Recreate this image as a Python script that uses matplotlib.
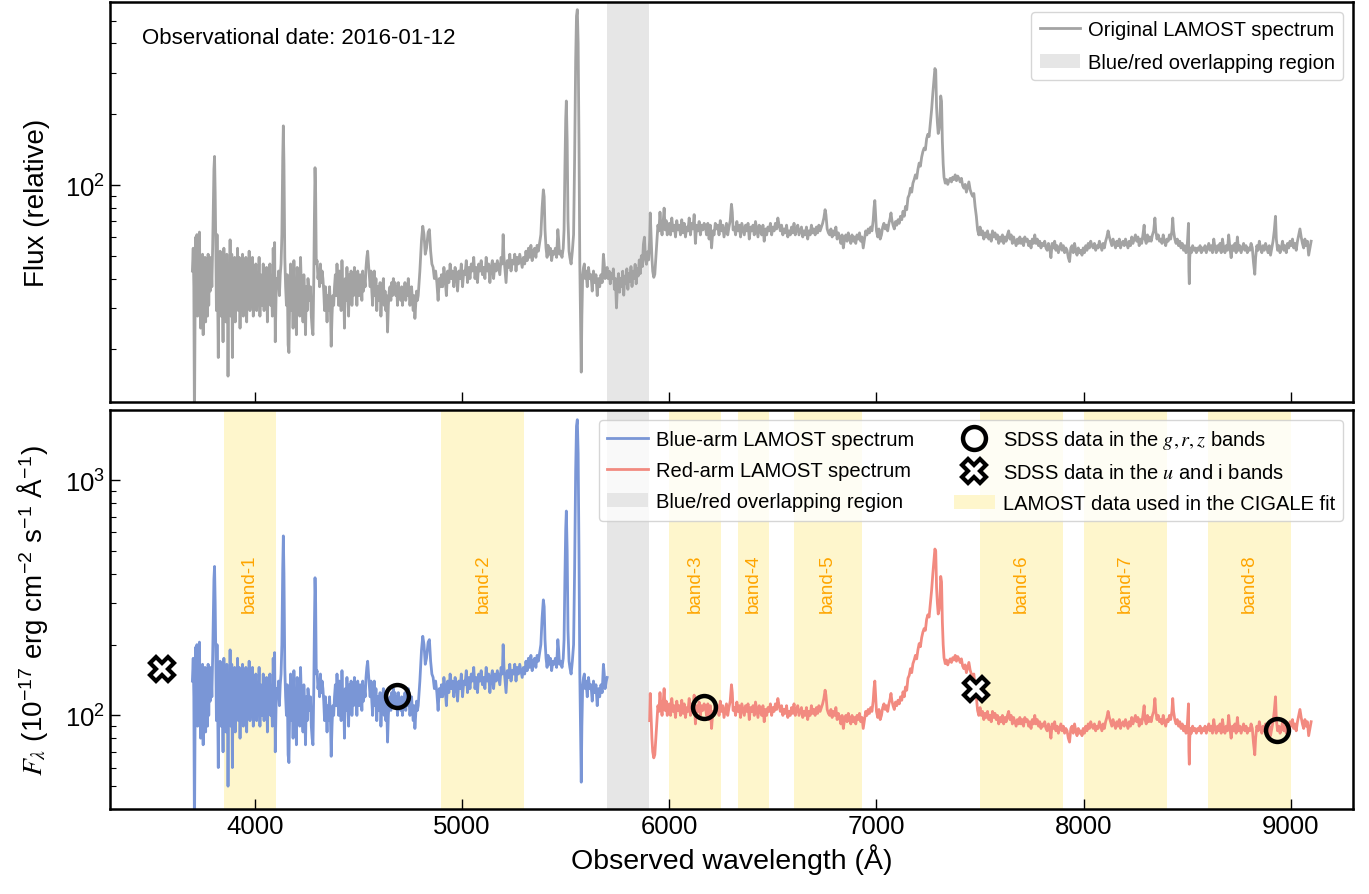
import numpy as np
import matplotlib
matplotlib.use("Agg")
import matplotlib.pyplot as plt
from matplotlib.ticker import LogLocator, NullFormatter

plt.rcParams["font.family"] = ["Liberation Sans", "DejaVu Sans"]
plt.rcParams["mathtext.fontset"] = "stix"

# Flux-calibrated blue arm, (wavelength in A, F_lambda in 1e-17 erg/cm2/s/A)
BLUE_ARM = [
    (3698, 140), (3702, 175), (3705, 120), (3708, 30), (3711, 95), (3714, 195), (3717, 110),
    (3720, 200), (3723, 90), (3726, 160), (3729, 100), (3732, 205), (3735, 120), (3738, 80),
    (3741, 150), (3744, 95), (3747, 165), (3750, 75), (3753, 140), (3756, 120), (3759, 160),
    (3762, 85), (3765, 150), (3768, 130), (3771, 90), (3774, 165), (3777, 100), (3780, 145),
    (3784, 115), (3788, 160), (3792, 120), (3796, 180), (3799, 260), (3802, 380), (3805, 430),
    (3808, 300), (3811, 180), (3814, 95), (3817, 200), (3820, 110), (3823, 60), (3826, 150),
    (3829, 120), (3832, 170), (3836, 90), (3840, 160), (3843, 110), (3846, 70), (3850, 175),
    (3853, 100), (3857, 150), (3860, 85), (3864, 165), (3867, 120), (3870, 50), (3874, 150),
    (3877, 110), (3880, 190), (3884, 90), (3888, 165), (3891, 60), (3895, 140), (3898, 100),
    (3902, 160), (3905, 85), (3909, 150), (3912, 120), (3916, 175), (3920, 95), (3924, 160),
    (3928, 80), (3932, 140), (3936, 115), (3940, 165), (3944, 90), (3948, 150), (3952, 100),
    (3956, 160), (3960, 85), (3964, 140), (3968, 120), (3972, 170), (3976, 95), (3980, 130),
    (3984, 110), (3988, 160), (3992, 90), (3996, 140), (4000, 115), (4004, 150), (4008, 95),
    (4012, 130), (4016, 110), (4020, 160), (4024, 90), (4028, 135), (4032, 120), (4036, 100),
    (4040, 150), (4044, 95), (4048, 130), (4052, 110), (4056, 145), (4060, 85), (4064, 125),
    (4068, 115), (4072, 150), (4076, 100), (4080, 120), (4084, 90), (4088, 175), (4092, 120),
    (4095, 185), (4098, 70), (4102, 110), (4106, 130), (4110, 120), (4114, 140), (4118, 110),
    (4122, 135), (4126, 150), (4130, 200), (4134, 420), (4137, 580), (4140, 400), (4144, 160),
    (4148, 120), (4152, 100), (4156, 135), (4160, 68), (4164, 63), (4168, 110), (4172, 150),
    (4176, 95), (4180, 140), (4184, 80), (4188, 155), (4192, 100), (4196, 130), (4200, 75),
    (4204, 145), (4208, 110), (4212, 125), (4216, 90), (4220, 160), (4224, 120), (4228, 100),
    (4232, 85), (4236, 135), (4240, 110), (4244, 75), (4248, 120), (4252, 95), (4256, 130),
    (4260, 115), (4264, 105), (4268, 120), (4272, 90), (4276, 80), (4280, 75), (4284, 130),
    (4287, 240), (4290, 385), (4293, 300), (4296, 150), (4300, 155), (4304, 130), (4308, 140),
    (4312, 120), (4316, 150), (4320, 125), (4324, 140), (4328, 130), (4332, 115), (4336, 95),
    (4340, 120), (4344, 105), (4348, 85), (4352, 110), (4356, 95), (4360, 120), (4364, 100),
    (4368, 67), (4372, 90), (4376, 110), (4380, 100), (4384, 120), (4388, 135), (4392, 110),
    (4396, 150), (4400, 120), (4404, 100), (4408, 140), (4412, 115), (4416, 95), (4420, 155),
    (4424, 110), (4428, 125), (4432, 80), (4436, 130), (4440, 105), (4444, 145), (4448, 115),
    (4452, 90), (4456, 135), (4460, 120), (4464, 140), (4468, 100), (4472, 125), (4476, 110),
    (4480, 145), (4484, 120), (4488, 130), (4492, 100), (4496, 140), (4500, 120), (4504, 110),
    (4508, 135), (4512, 125), (4516, 105), (4520, 140), (4524, 115), (4528, 130), (4532, 120),
    (4536, 145), (4540, 160), (4544, 170), (4548, 150), (4552, 135), (4556, 120), (4560, 140),
    (4564, 115), (4568, 100), (4572, 125), (4576, 140), (4580, 110), (4584, 130), (4588, 95),
    (4592, 120), (4596, 105), (4600, 115), (4604, 125), (4608, 90), (4612, 110), (4616, 120),
    (4620, 130), (4624, 100), (4628, 115), (4632, 95), (4636, 110), (4640, 77), (4644, 100),
    (4648, 115), (4652, 120), (4656, 105), (4660, 125), (4664, 110), (4668, 130), (4672, 115),
    (4676, 125), (4680, 110), (4684, 120), (4688, 100), (4692, 125), (4696, 110), (4700, 118),
    (4704, 105), (4708, 120), (4712, 100), (4716, 115), (4720, 110), (4724, 125), (4728, 105),
    (4732, 120), (4736, 110), (4740, 130), (4744, 115), (4748, 100), (4752, 110), (4756, 120),
    (4760, 105), (4764, 95), (4768, 110), (4772, 88), (4776, 100), (4780, 115), (4784, 105),
    (4788, 110), (4796, 140), (4804, 190), (4810, 217), (4816, 200), (4822, 165), (4828, 175),
    (4836, 205), (4842, 210), (4848, 170), (4854, 150), (4860, 145), (4866, 130), (4872, 140),
    (4878, 125), (4884, 105), (4890, 130), (4896, 120), (4900, 135), (4906, 120), (4912, 145),
    (4918, 130), (4924, 110), (4930, 140), (4936, 125), (4942, 150), (4948, 130), (4954, 140),
    (4960, 120), (4966, 145), (4972, 135), (4978, 115), (4984, 140), (4990, 130), (4996, 150),
    (5002, 120), (5008, 140), (5014, 135), (5020, 155), (5026, 125), (5032, 145), (5038, 130),
    (5044, 150), (5050, 140), (5056, 160), (5062, 130), (5068, 145), (5074, 125), (5080, 150),
    (5086, 140), (5092, 155), (5098, 135), (5104, 145), (5110, 130), (5116, 160), (5122, 140),
    (5128, 150), (5134, 125), (5140, 145), (5146, 155), (5152, 130), (5158, 150), (5164, 140),
    (5170, 155), (5176, 145), (5182, 135), (5188, 160), (5194, 150), (5198, 200), (5202, 160),
    (5206, 145), (5212, 125), (5218, 155), (5224, 145), (5230, 165), (5236, 140), (5242, 155),
    (5248, 150), (5254, 165), (5260, 140), (5266, 160), (5272, 150), (5278, 165), (5284, 155),
    (5290, 145), (5296, 160), (5302, 150), (5308, 170), (5314, 155), (5320, 175), (5326, 160),
    (5332, 180), (5338, 155), (5344, 170), (5350, 175), (5356, 160), (5362, 180), (5368, 170),
    (5374, 185), (5380, 200), (5386, 260), (5392, 310), (5396, 290), (5400, 210), (5405, 175),
    (5410, 160), (5415, 180), (5420, 165), (5426, 175), (5432, 155), (5438, 170), (5444, 165),
    (5450, 175), (5456, 160), (5462, 210), (5466, 190), (5470, 165), (5476, 170), (5482, 160),
    (5488, 175), (5492, 210), (5496, 380), (5500, 620), (5503, 740), (5507, 500), (5511, 230),
    (5516, 170), (5520, 160), (5526, 150), (5532, 170), (5538, 200), (5543, 420), (5548, 1100),
    (5552, 1700), (5556, 1810), (5560, 1300), (5564, 500), (5568, 150), (5572, 80), (5575, 52),
    (5578, 90), (5582, 135), (5586, 145), (5590, 150), (5594, 130), (5598, 140), (5604, 120),
    (5610, 145), (5616, 130), (5622, 135), (5628, 115), (5634, 140), (5640, 125), (5646, 135),
    (5652, 110), (5658, 130), (5664, 120), (5670, 135), (5676, 125), (5682, 165), (5686, 150),
    (5690, 130), (5696, 140), (5700, 145),
]

# Flux-calibrated red arm
RED_ARM = [
    (5905, 95), (5908, 124), (5912, 100), (5916, 80), (5920, 70), (5925, 66), (5930, 68),
    (5935, 80), (5940, 95), (5945, 110), (5950, 104), (5955, 125), (5960, 108), (5965, 100),
    (5970, 112), (5975, 130), (5980, 105), (5985, 115), (5990, 100), (5995, 108), (6000, 112),
    (6006, 100), (6012, 118), (6018, 104), (6024, 110), (6030, 98), (6036, 115), (6042, 105),
    (6048, 110), (6054, 100), (6060, 116), (6066, 102), (6072, 112), (6078, 98), (6084, 108),
    (6090, 104), (6096, 118), (6102, 100), (6108, 112), (6114, 106), (6120, 122), (6126, 92),
    (6132, 110), (6138, 104), (6144, 114), (6150, 100), (6156, 110), (6162, 105), (6168, 112),
    (6174, 108), (6180, 100), (6186, 112), (6192, 96), (6198, 110), (6204, 88), (6210, 104),
    (6216, 100), (6222, 112), (6228, 106), (6234, 110), (6240, 100), (6246, 115), (6252, 104),
    (6258, 110), (6264, 98), (6270, 105), (6276, 112), (6282, 100), (6288, 108), (6294, 115),
    (6300, 135), (6304, 125), (6308, 105), (6314, 108), (6320, 100), (6326, 114), (6332, 104),
    (6338, 110), (6344, 98), (6350, 112), (6356, 106), (6362, 100), (6368, 110), (6374, 104),
    (6380, 112), (6386, 96), (6392, 108), (6398, 104), (6404, 110), (6410, 100), (6416, 114),
    (6422, 106), (6428, 98), (6434, 110), (6440, 104), (6446, 100), (6452, 110), (6458, 94),
    (6464, 106), (6470, 100), (6476, 108), (6482, 104), (6488, 112), (6494, 100), (6500, 108),
    (6506, 104), (6512, 112), (6518, 106), (6524, 118), (6530, 110), (6536, 104), (6542, 110),
    (6548, 100), (6554, 106), (6560, 102), (6566, 110), (6572, 98), (6578, 104), (6584, 100),
    (6590, 108), (6596, 102), (6602, 112), (6608, 100), (6614, 106), (6620, 110), (6626, 100),
    (6632, 104), (6638, 108), (6644, 98), (6650, 104), (6656, 100), (6662, 108), (6668, 96),
    (6674, 104), (6680, 100), (6686, 110), (6692, 102), (6698, 106), (6704, 100), (6710, 108),
    (6716, 102), (6722, 110), (6728, 104), (6734, 108), (6740, 112), (6746, 118), (6752, 128),
    (6756, 122), (6762, 106), (6768, 102), (6774, 100), (6780, 106), (6786, 98), (6792, 104),
    (6798, 100), (6804, 108), (6810, 96), (6816, 102), (6822, 98), (6828, 92), (6834, 100),
    (6840, 88), (6846, 96), (6852, 100), (6858, 94), (6864, 102), (6870, 96), (6876, 92),
    (6882, 100), (6888, 94), (6894, 98), (6900, 92), (6906, 100), (6912, 96), (6918, 102),
    (6924, 94), (6930, 98), (6936, 88), (6942, 96), (6948, 104), (6954, 100), (6960, 106),
    (6966, 102), (6972, 108), (6978, 104), (6984, 115), (6988, 130), (6992, 140), (6996, 120),
    (7000, 104), (7006, 98), (7012, 106), (7018, 96), (7024, 100), (7030, 108), (7036, 112),
    (7042, 106), (7048, 110), (7054, 104), (7060, 112), (7066, 118), (7070, 124), (7074, 116),
    (7080, 110), (7086, 106), (7092, 114), (7098, 110), (7104, 116), (7110, 112), (7116, 120),
    (7122, 116), (7128, 126), (7134, 120), (7140, 132), (7146, 128), (7152, 144), (7158, 148),
    (7164, 158), (7170, 152), (7176, 166), (7182, 172), (7188, 180), (7194, 174), (7200, 190),
    (7206, 202), (7212, 196), (7218, 214), (7224, 226), (7230, 234), (7236, 230), (7242, 256),
    (7248, 268), (7254, 262), (7260, 300), (7266, 340), (7272, 400), (7278, 460), (7282, 510),
    (7286, 500), (7290, 350), (7294, 300), (7298, 270), (7302, 280), (7306, 300), (7310, 390),
    (7314, 370), (7318, 250), (7322, 200), (7326, 176), (7332, 166), (7338, 172), (7344, 164),
    (7350, 170), (7356, 174), (7362, 168), (7368, 176), (7374, 172), (7380, 180), (7386, 170),
    (7392, 178), (7398, 174), (7404, 168), (7410, 174), (7416, 162), (7422, 158), (7428, 164),
    (7434, 152), (7440, 160), (7446, 168), (7452, 156), (7458, 150), (7464, 146), (7470, 150),
    (7476, 132), (7482, 120), (7488, 105), (7494, 100), (7500, 108), (7506, 100), (7512, 104),
    (7518, 96), (7524, 102), (7530, 98), (7536, 104), (7542, 96), (7548, 100), (7554, 94),
    (7560, 104), (7566, 98), (7572, 102), (7578, 96), (7584, 100), (7590, 92), (7596, 98),
    (7602, 94), (7608, 100), (7614, 92), (7620, 98), (7626, 94), (7632, 100), (7638, 104),
    (7644, 96), (7650, 100), (7656, 92), (7662, 98), (7668, 94), (7674, 90), (7680, 96),
    (7686, 92), (7692, 98), (7698, 92), (7704, 96), (7710, 90), (7716, 98), (7722, 94),
    (7728, 96), (7734, 90), (7740, 94), (7746, 88), (7752, 96), (7758, 92), (7764, 100),
    (7770, 92), (7776, 96), (7782, 90), (7788, 94), (7794, 88), (7800, 92), (7806, 90),
    (7812, 94), (7818, 88), (7824, 86), (7830, 92), (7836, 88), (7842, 80), (7848, 92),
    (7854, 88), (7860, 94), (7866, 86), (7872, 90), (7878, 84), (7884, 88), (7890, 92),
    (7896, 86), (7902, 90), (7908, 84), (7914, 88), (7920, 86), (7926, 80), (7932, 77),
    (7938, 88), (7944, 90), (7950, 84), (7956, 92), (7962, 86), (7968, 82), (7974, 88),
    (7980, 84), (7986, 86), (7992, 82), (7998, 88), (8004, 84), (8010, 90), (8016, 86),
    (8022, 92), (8028, 88), (8034, 94), (8040, 90), (8046, 88), (8052, 92), (8058, 86),
    (8064, 90), (8070, 88), (8076, 94), (8082, 90), (8088, 86), (8094, 92), (8100, 88),
    (8106, 94), (8112, 98), (8118, 104), (8124, 98), (8130, 94), (8136, 90), (8142, 96),
    (8148, 92), (8154, 88), (8160, 94), (8166, 90), (8172, 96), (8178, 88), (8184, 92),
    (8190, 94), (8196, 90), (8202, 96), (8208, 92), (8214, 88), (8220, 94), (8226, 90),
    (8232, 98), (8238, 92), (8244, 96), (8250, 100), (8256, 94), (8262, 98), (8268, 90),
    (8274, 96), (8280, 92), (8286, 100), (8292, 110), (8296, 96), (8302, 92), (8308, 100),
    (8314, 94), (8320, 98), (8326, 94), (8332, 100), (8338, 104), (8344, 118), (8348, 104),
    (8354, 96), (8360, 100), (8366, 94), (8372, 96), (8378, 92), (8384, 100), (8390, 94),
    (8396, 90), (8402, 96), (8408, 94), (8414, 100), (8420, 96), (8426, 104), (8430, 118),
    (8434, 104), (8440, 96), (8446, 92), (8452, 96), (8458, 90), (8464, 94), (8470, 88),
    (8476, 92), (8482, 86), (8488, 90), (8494, 84), (8498, 86), (8502, 96), (8506, 112),
    (8508, 70), (8510, 62), (8512, 80), (8516, 88), (8520, 84), (8526, 90), (8532, 86),
    (8538, 88), (8544, 84), (8550, 88), (8556, 86), (8562, 90), (8568, 84), (8574, 88),
    (8580, 86), (8586, 90), (8592, 84), (8598, 88), (8604, 92), (8610, 86), (8616, 90),
    (8622, 84), (8628, 96), (8634, 88), (8640, 84), (8646, 90), (8652, 86), (8658, 92),
    (8664, 84), (8670, 96), (8676, 88), (8682, 84), (8688, 90), (8694, 86), (8700, 100),
    (8706, 88), (8712, 80), (8718, 90), (8724, 86), (8730, 92), (8736, 84), (8742, 98),
    (8748, 86), (8754, 90), (8760, 84), (8766, 88), (8772, 92), (8778, 86), (8784, 90),
    (8790, 84), (8796, 88), (8802, 86), (8808, 92), (8814, 88), (8820, 76), (8826, 68),
    (8830, 80), (8836, 90), (8842, 86), (8848, 94), (8854, 88), (8860, 84), (8866, 90),
    (8872, 86), (8878, 92), (8884, 88), (8890, 84), (8896, 90), (8902, 82), (8908, 88),
    (8914, 94), (8920, 104), (8926, 120), (8930, 96), (8936, 86), (8942, 90), (8948, 84),
    (8954, 88), (8960, 94), (8966, 86), (8972, 90), (8978, 84), (8984, 92), (8990, 88),
    (8996, 94), (9002, 90), (9008, 96), (9014, 88), (9020, 92), (9026, 86), (9032, 94),
    (9038, 100), (9044, 106), (9050, 98), (9056, 92), (9062, 88), (9068, 96), (9074, 90),
    (9080, 94), (9086, 82), (9092, 88), (9098, 94),
]

# Original (relative) spectrum inside the blue/red overlap, where the arms are merged
OVERLAP_RELATIVE = [
    (5704, 40), (5710, 43), (5715, 38), (5720, 42), (5725, 40), (5730, 44), (5735, 36),
    (5740, 40), (5745, 30), (5750, 38), (5755, 42), (5760, 35), (5765, 40), (5770, 37),
    (5775, 43), (5780, 34), (5785, 41), (5790, 38), (5795, 44), (5800, 36), (5805, 42),
    (5810, 39), (5815, 45), (5820, 37), (5825, 43), (5830, 40), (5835, 46), (5840, 38),
    (5845, 44), (5850, 41), (5855, 48), (5860, 42), (5865, 50), (5870, 45), (5875, 56),
    (5880, 60), (5885, 48), (5890, 46), (5895, 52), (5900, 48),
]

# relative flux = calibrated flux / arm scale
BLUE_SCALE = 3.25
RED_SCALE = 1.63

OVERLAP_RANGE = (5700, 5900)
BAND_NAMES = ["band-1", "band-2", "band-3", "band-4", "band-5", "band-6", "band-7", "band-8"]
BAND_EDGES = [(3850, 4100), (4900, 5300), (6000, 6250), (6330, 6480),
              (6600, 6930), (7500, 7900), (8000, 8400), (8600, 9000)]

# SDSS photometry (effective wavelength, F_lambda)
SDSS_GRZ_WAVE = [4686, 6166, 8932]
SDSS_GRZ_FLUX = [121, 108.6, 86.5]
SDSS_UI_WAVE = [3551, 7480]
SDSS_UI_FLUX = [158, 129]

OBS_DATE = "2016-01-12"

GRAY = "#a3a3a3"
BLUE = "#7a96d6"
RED = "#f28a80"
SPAN_GRAY = "#e6e6e6"
SPAN_YELLOW = "#fef6cc"

blue = np.array(BLUE_ARM, dtype=float)
red = np.array(RED_ARM, dtype=float)
ovl = np.array(OVERLAP_RELATIVE, dtype=float)

orig_wave = np.concatenate([blue[:, 0], ovl[:, 0], red[:, 0]])
orig_flux = np.concatenate([blue[:, 1] / BLUE_SCALE, ovl[:, 1], red[:, 1] / RED_SCALE])

fig, (ax1, ax2) = plt.subplots(2, 1, sharex=True, figsize=(13.69, 8.95), dpi=100)
fig.subplots_adjust(left=0.0803, right=0.9883, top=0.9966, bottom=0.095, hspace=0.02)

# --- top: original spectrum
span = ax1.axvspan(*OVERLAP_RANGE, color=SPAN_GRAY, lw=0, zorder=0)
line, = ax1.plot(orig_wave, orig_flux, color=GRAY, lw=2.0, zorder=2)
ax1.set_yscale("log")
ax1.set_ylim(12, 600)
ax1.set_ylabel("Flux (relative)", fontsize=20)
ax1.text(0.026, 0.91, f"Observational date: {OBS_DATE}", transform=ax1.transAxes,
         fontsize=16, va="center", ha="left")
ax1.legend([line, span], ["Original LAMOST spectrum", "Blue/red overlapping region"],
           loc="upper right", fontsize=14.5, handletextpad=0.4, labelspacing=0.7)

# --- bottom: calibrated arms + SDSS photometry
ax2.axvspan(*OVERLAP_RANGE, color=SPAN_GRAY, lw=0, zorder=0)
for i, ((lo, hi), name) in enumerate(zip(BAND_EDGES, BAND_NAMES)):
    band = ax2.axvspan(lo, hi, color=SPAN_YELLOW, lw=0, zorder=0)
    ax2.text(0.5 * (lo + hi), 367, name, rotation=90, ha="center", va="center",
             color="orange", fontsize=13.5, zorder=1)

bline, = ax2.plot(blue[:, 0], blue[:, 1], color=BLUE, lw=2.0, zorder=2)
rline, = ax2.plot(red[:, 0], red[:, 1], color=RED, lw=2.0, zorder=2)
grz, = ax2.plot(SDSS_GRZ_WAVE, SDSS_GRZ_FLUX, ls="none", marker="o", ms=16.5, mfc="none",
                mec="black", mew=3.2, zorder=4)
ui, = ax2.plot(SDSS_UI_WAVE, SDSS_UI_FLUX, ls="none", marker="X", ms=17, mfc="white",
               mec="black", mew=3.0, zorder=4)

ax2.set_yscale("log")
ax2.set_ylim(40, 2000)
ax2.set_xlim(3300, 9300)
ax2.set_xticks([4000, 5000, 6000, 7000, 8000, 9000])
ax2.set_xlabel("Observed wavelength (Å)", fontsize=20.5)
ax2.set_ylabel(r"$F_\lambda$ (10$^{\mathdefault{-17}}$ erg cm$^{\mathdefault{-2}}$ "
               r"s$^{\mathdefault{-1}}$ Å$^{\mathdefault{-1}}$)", fontsize=20)

# spectra and overlap in column 1, photometry and fit bands in column 2
ax2.legend([bline, rline, span, grz, ui, band],
           ["Blue-arm LAMOST spectrum", "Red-arm LAMOST spectrum", "Blue/red overlapping region",
            r"SDSS data in the $g, r, z$ bands", r"SDSS data in the $u$ and i bands",
            "LAMOST data used in the CIGALE fit"],
           loc="upper right", ncol=2, fontsize=14.5, handletextpad=0.4, columnspacing=2.0,
           labelspacing=0.6)

for ax in (ax1, ax2):
    ax.tick_params(which="both", direction="in", top=False, right=False, labelsize=18.5)
    ax.tick_params(which="major", length=7, width=1.0)
    ax.tick_params(which="minor", length=4, width=0.8)
    ax.yaxis.set_minor_locator(LogLocator(base=10, subs=np.arange(2, 10)))
    ax.yaxis.set_minor_formatter(NullFormatter())
    ax.yaxis.set_label_coords(-0.048, 0.5)
    for s in ax.spines.values():
        s.set_linewidth(1.8)

fig.savefig("out.png", dpi=100)
